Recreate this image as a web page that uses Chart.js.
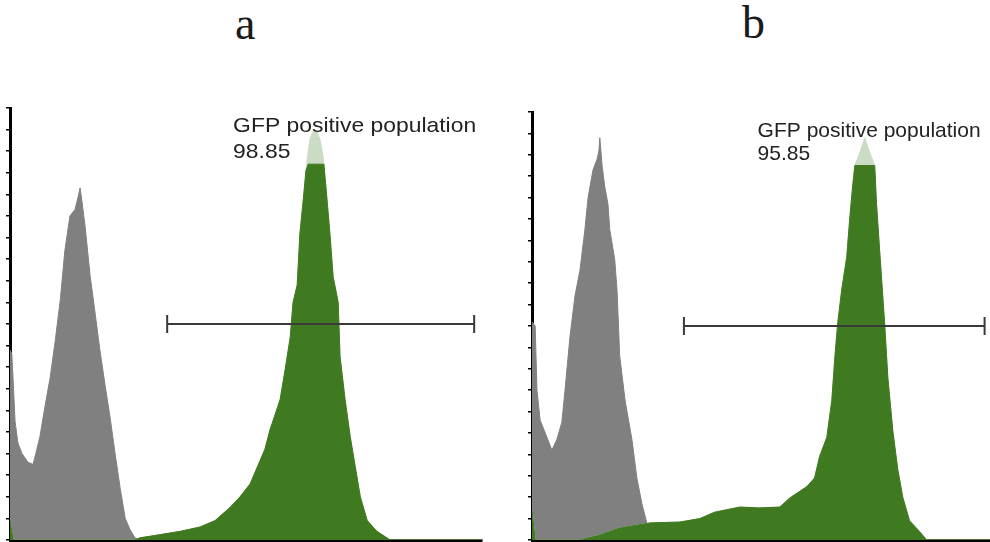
<!DOCTYPE html>
<html>
<head>
<meta charset="utf-8">
<script src="https://cdn.jsdelivr.net/npm/chart.js@4.4.1/dist/chart.umd.min.js"></script>
<style>
body { margin:0; width:990px; height:542px; overflow:hidden; background:#fff; position:relative; }
.ttl { position:absolute; font-family:"Liberation Serif","Times New Roman",serif; font-size:46px; color:#1a1a1a; line-height:1; }
.box { position:absolute; top:0; height:542px; }
</style>
</head>
<body>
<div class="ttl" style="left:235px;top:1px">a</div>
<div class="ttl" style="left:742px;top:0px">b</div>
<div class="box" style="left:0;width:490px"><canvas id="chartA" width="490" height="542"></canvas></div>
<div class="box" style="left:522px;width:473px"><canvas id="chartB" width="473" height="542"></canvas></div>
<script>
// channels 0-1024 over 4 log decades, counts per channel
var grayA_ch = [0,4,11,17,26,39,50,56,65,76,87,98,109,119,130,141,148,152,156,163,174,184,195,206,217,228,239,250,260,271,282];
var grayA_n  = [88,86,55,45,40,36,35,40,48,62,75,92,111,134,150,153,159,163,157,145,122,106,88,72,57,40,24,10,5,1,0];
var greenA_ch = [0,2,7,271,282,326,369,412,445,477,499,521,543,553,564,586,597,608,614,623,629,636,642,647,651,657,666,673,679,681,688,694,701,712,716,727,738,749,760,775,796,825,1024];
var greenA_n  = [9,9,0,0,1,2.5,4,6,9,15,20,26,37,42,51,65,79,94,110,118,142,157,171,180,186,189,189,185,178,174,157,142,122,110,85,65,48,34,20,9,4,0,0];

var grayB_ch = [0,7,11,18,33,44,55,66,73,84,95,106,117,124,135,144,148,150,155,161,168,172,183,188,194,206,221,232,243,254,265];
var grayB_n  = [102,100,70,56,48,42,47,55,70,95,114,126,145,160,173,178,182,188,175,165,157,145,131,117,86,65,47,29,17,8,0];
var greenB_ch = [0,2,7,106,150,194,261,327,371,404,427,460,504,548,570,608,625,636,652,663,670,676,685,696,703,709,714,725,736,747,758,762,769,780,787,798,809,820,835,857,873,1024];
var greenB_n  = [14,14,0,0,2.3,5.6,8,8.4,10,13,14,15.4,15,15.4,19.6,25,29,39,48,65,86,101,117,132,151,165,175,181,188,181,175,157,135,101,76,51,33,20,9,4,0,0];

// display ceiling of the dark fill (tip above it is pale)
var capA = 174;
var capB = 175;

// gate marker: [from channel, to channel], level in counts
var gateA = [341, 1007];
var gateB = [336, 1001];
var gateLevel = 100;

var gateLabel = 'GFP positive population';
var pctA = '98.85';
var pctB = '95.85';

var GRAY = '#808080';
var GREEN = '#407a20';
var PALE = '#cbdcc4';

var pts = function (ch, n) {
    return ch.map(function (c, i) { return { x: c, y: n[i] }; });
};

var logTicks = function () {
    var t = [];
    for (var d = 0; d < 4; d++) {
        for (var k = 1; k < 10; k++) t.push({ value: 256 * (d + Math.log10(k)) });
    }
    t.push({ value: 1024 });
    return t;
};

var gatePlugin = {
    id: 'gate',
    afterDatasetsDraw: function (chart, args, o) {
        var c = chart.ctx, x = chart.scales.x, y = chart.scales.y;
        var x1 = x.getPixelForValue(o.from), x2 = x.getPixelForValue(o.to), yy = y.getPixelForValue(o.level);
        c.save();
        c.strokeStyle = '#3a3a3a';
        c.lineWidth = 2;
        c.beginPath();
        c.moveTo(x1, yy); c.lineTo(x2, yy);
        c.moveTo(x1, yy - 9); c.lineTo(x1, yy + 9);
        c.moveTo(x2, yy - 9); c.lineTo(x2, yy + 9);
        c.stroke();
        // label text
        c.fillStyle = '#222';
        c.font = o.fontSize + 'px "Liberation Sans", Arial, sans-serif';
        c.textBaseline = 'alphabetic';
        var tx = x.getPixelForValue(o.textCh);
        var lines = [[o.label, o.textN1], [o.value, o.textN2]];
        lines.forEach(function (l) {
            c.save();
            c.translate(tx, y.getPixelForValue(l[1]));
            c.scale(o.stretch, 1);
            c.fillText(l[0], 0, 0);
            c.restore();
        });
        c.restore();
    }
};

var drawHist = function (id, grayCh, grayN, greenCh, greenN, cap, gate, value, look) {
    const ctx = document.getElementById(id);
    var myChart = new Chart(ctx, {
        type: 'line',
        data: {
            datasets: [
                {
                    data: pts(greenCh, greenN.map(function (v) { return Math.min(v, cap); })),
                    backgroundColor: GREEN, borderColor: GREEN, borderWidth: 1,
                    fill: 'origin', pointRadius: 0, tension: 0,
                },
                {
                    data: pts(greenCh, greenN),
                    backgroundColor: PALE, borderColor: PALE, borderWidth: 1,
                    fill: 'origin', pointRadius: 0, tension: 0,
                },
                {
                    data: pts(grayCh, grayN),
                    backgroundColor: GRAY, borderColor: GRAY, borderWidth: 1,
                    fill: 'origin', pointRadius: 0, tension: 0,
                },
            ],
        },
        options: {
            responsive: false,
            animation: false,
            layout: { padding: { top: look.top, right: look.right, left: 0, bottom: 0 } },
            plugins: {
                legend: { display: false },
                tooltip: { enabled: false },
                gate: {
                    from: gate[0], to: gate[1], level: gateLevel,
                    label: gateLabel, value: value,
                    textCh: look.textCh, textN1: look.textN1, textN2: look.textN2,
                    fontSize: look.fontSize, stretch: look.stretch,
                },
            },
            scales: {
                x: {
                    type: 'linear', min: 0, max: 1024,
                    afterBuildTicks: function (s) { s.ticks = logTicks(); },
                    afterFit: function (s) { s.height = 2; },
                    ticks: { display: false },
                    grid: { drawOnChartArea: false, tickLength: 4, color: '#000', lineWidth: 1.5 },
                    border: { color: '#000', width: 3 },
                },
                y: {
                    min: 0, max: 200,
                    afterFit: function (s) { s.width = 10; },
                    ticks: { display: false, stepSize: 10 },
                    grid: { drawOnChartArea: false, tickLength: 4, color: '#000', lineWidth: 1.5 },
                    border: { color: '#000', width: 3 },
                },
            },
        },
        plugins: [gatePlugin],
    });
    return myChart;
};

drawHist('chartA', grayA_ch, grayA_n, greenA_ch, greenA_n, capA, gateA, pctA,
    { top: 108, right: 8, textCh: 484, textN1: 189, textN2: 177, fontSize: 21, stretch: 1.09 });
drawHist('chartB', grayB_ch, grayB_n, greenB_ch, greenB_n, capB, gateB, pctB,
    { top: 112, right: 0, textCh: 499, textN1: 188.3, textN2: 177.6, fontSize: 21, stretch: 1.0 });
</script>
</body>
</html>
